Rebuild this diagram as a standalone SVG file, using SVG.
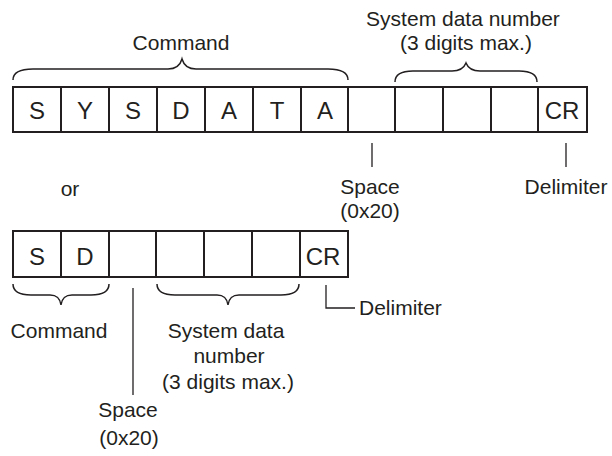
<svg xmlns="http://www.w3.org/2000/svg" width="612" height="456" viewBox="0 0 612 456">
<style>
text{font-family:"Liberation Sans",Arial,sans-serif;fill:#231f20;text-anchor:middle}
.lbl{font-size:21px}
.cell{font-size:24px}
.box{fill:#fff;stroke:#231f20;stroke-width:2}
.br{fill:none;stroke:#231f20;stroke-width:1.5}
.tick{fill:none;stroke:#231f20;stroke-width:1.3}
</style>
<rect width="612" height="456" fill="#fff"/>
<g id="row1">
<rect class="box" x="13" y="87" width="574" height="45"/>
<path class="tick" style="stroke-width:2" d="M61,87V132M109,87V132M157,87V132M205,87V132M253,87V132M301,87V132M348,87V132M395,87V132M443,87V132M491,87V132M538,87V132"/>
<text class="cell" x="37" y="119">S</text>
<text class="cell" x="85" y="119">Y</text>
<text class="cell" x="133" y="119">S</text>
<text class="cell" x="181" y="119">D</text>
<text class="cell" x="229" y="119">A</text>
<text class="cell" x="277" y="119">T</text>
<text class="cell" x="325" y="119">A</text>
<text class="cell" x="562" y="119">CR</text>
</g>
<g id="row2">
<rect class="box" x="13" y="231" width="335" height="46"/>
<path class="tick" style="stroke-width:2" d="M61,231V277M109,231V277M156,231V277M204,231V277M252,231V277M300,231V277"/>
<text class="cell" x="37" y="265">S</text>
<text class="cell" x="85" y="265">D</text>
<text class="cell" x="323" y="265">CR</text>
</g>
<g id="connectors">
<path class="br" d="M13,80 C13,72 20,69 33,69 L168,69 C176,69 180,66 182,59 C184,66 188,69 196,69 L328,69 C341,69 348,72 348,80"/>
<path class="br" d="M395,82 C395,74 401,71 413,71 L452,71 C460,71 464,68 466,63 C468,68 472,71 480,71 L519,71 C531,71 537,74 537,82"/>
<path class="br" d="M13,284 C13,292 19,295 31,295 L50,295 C57,295 60,298 61,305 C62,298 65,295 72,295 L91,295 C103,295 109,292 109,284"/>
<path class="br" d="M157,284 C157,292 163,295 175,295 L217,295 C224,295 227,298 228,305 C229,298 232,295 239,295 L281,295 C293,295 299,292 299,284"/>
<path class="tick" d="M372,143V167M566,143V167M133,288V395M326,285V308H355"/>
</g>
<g id="labels">
<text class="lbl" x="181" y="50">Command</text>
<text class="lbl" x="463" y="26">System data number</text>
<text class="lbl" x="466" y="50">(3 digits max.)</text>
<text class="lbl" x="370" y="194">Space</text>
<text class="lbl" x="370" y="218">(0x20)</text>
<text class="lbl" x="566" y="194">Delimiter</text>
<text class="lbl" x="70" y="196">or</text>
<text class="lbl" x="59" y="338">Command</text>
<text class="lbl" x="226" y="338">System data</text>
<text class="lbl" x="229" y="363">number</text>
<text class="lbl" x="228" y="389">(3 digits max.)</text>
<text class="lbl" x="128" y="417">Space</text>
<text class="lbl" x="129" y="445">(0x20)</text>
<text class="lbl" x="359" y="315" style="text-anchor:start">Delimiter</text>
</g>
</svg>
